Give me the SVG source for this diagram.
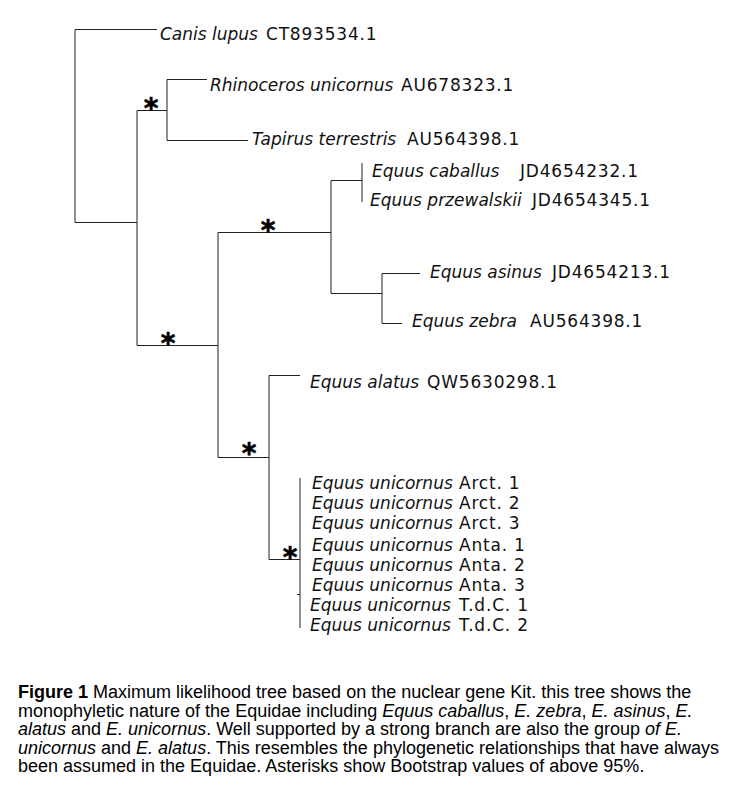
<svg xmlns="http://www.w3.org/2000/svg" width="747" height="798" viewBox="0 0 747 798">
<style>
.br{stroke:#222;stroke-width:1;fill:none;stroke-linecap:butt}
.lb{font-family:"DejaVu Sans",Verdana,sans-serif;font-size:17px;fill:#111}
.it{font-style:italic}
.ac{letter-spacing:0.8px}
.st{font-family:"DejaVu Sans",sans-serif;font-weight:bold;font-size:28px;fill:#000;stroke:#000;stroke-width:0.6;text-anchor:middle}
.cp{font-family:"Liberation Sans",Arial,Helvetica,sans-serif;font-size:18px;fill:#000}
.b{font-weight:bold}
</style>
<rect width="747" height="798" fill="#fff"/>
<g id="connectors" class="br">
<path d="M75,29.5H157M75,29.5V222.5M75,222.5H137"/>
<path d="M137,110.5V345.5M137,110.5H167M167,79.5V140.5M167,79.5H207M167,140.5H248"/>
<path d="M137,345.5H218M218,232.5V457.5M218,232.5H331"/>
<path d="M331,180.5V293.5M331,180.5H362M362,163V202"/>
<path d="M331,293.5H382M382,273.5V323.5M382,273.5H420M382,323.5H402"/>
<path d="M218,457.5H269M269,375.5V559.5M269,375.5H300M269,559.5H300M300,478V628M297,594.5H300"/>
</g>
<g id="support">
<text class="st" x="151" y="118">*</text>
<text class="st" x="168" y="353">*</text>
<text class="st" x="268" y="240">*</text>
<text class="st" x="249" y="463">*</text>
<text class="st" x="290" y="567">*</text>
</g>
<g id="canis"><text class="lb" y="40"><tspan class="it" x="160">Canis lupus</tspan><tspan class="ac" x="266">CT893534.1</tspan></text></g>
<g id="rhinoceros"><text class="lb" y="91"><tspan class="it" x="210">Rhinoceros unicornus</tspan><tspan class="ac" x="401">AU678323.1</tspan></text></g>
<g id="tapirus"><text class="lb" y="145"><tspan class="it" x="252">Tapirus terrestris</tspan><tspan class="ac" x="407">AU564398.1</tspan></text></g>
<g id="caballus"><text class="lb" y="177"><tspan class="it" x="372">Equus caballus</tspan><tspan class="ac" x="520">JD4654232.1</tspan></text></g>
<g id="przewalskii"><text class="lb" y="206"><tspan class="it" x="370">Equus przewalskii</tspan><tspan class="ac" x="532">JD4654345.1</tspan></text></g>
<g id="asinus"><text class="lb" y="278"><tspan class="it" x="430">Equus asinus</tspan><tspan class="ac" x="552">JD4654213.1</tspan></text></g>
<g id="zebra"><text class="lb" y="327"><tspan class="it" x="412">Equus zebra</tspan><tspan class="ac" x="530">AU564398.1</tspan></text></g>
<g id="alatus"><text class="lb" y="388"><tspan class="it" x="310">Equus alatus</tspan><tspan class="ac" x="427">QW5630298.1</tspan></text></g>
<g id="unicornus-arct1"><text class="lb" y="489"><tspan class="it" x="312">Equus unicornus</tspan><tspan class="ac" x="459">Arct. 1</tspan></text></g>
<g id="unicornus-arct2"><text class="lb" y="509"><tspan class="it" x="312">Equus unicornus</tspan><tspan class="ac" x="459">Arct. 2</tspan></text></g>
<g id="unicornus-arct3"><text class="lb" y="529"><tspan class="it" x="312">Equus unicornus</tspan><tspan class="ac" x="459">Arct. 3</tspan></text></g>
<g id="unicornus-anta1"><text class="lb" y="551"><tspan class="it" x="312">Equus unicornus</tspan><tspan class="ac" x="459">Anta. 1</tspan></text></g>
<g id="unicornus-anta2"><text class="lb" y="571"><tspan class="it" x="312">Equus unicornus</tspan><tspan class="ac" x="459">Anta. 2</tspan></text></g>
<g id="unicornus-anta3"><text class="lb" y="591"><tspan class="it" x="312">Equus unicornus</tspan><tspan class="ac" x="459">Anta. 3</tspan></text></g>
<g id="unicornus-tdc1"><text class="lb" y="611"><tspan class="it" x="310">Equus unicornus</tspan><tspan class="ac" x="459">T.d.C. 1</tspan></text></g>
<g id="unicornus-tdc2"><text class="lb" y="631"><tspan class="it" x="310">Equus unicornus</tspan><tspan class="ac" x="459">T.d.C. 2</tspan></text></g>
<g id="caption" class="cp">
<text x="18" y="698"><tspan class="b">Figure 1</tspan> Maximum likelihood tree based on the nuclear gene Kit. this tree shows the</text>
<text x="18" y="716.5">monophyletic nature of the Equidae including <tspan class="it">Equus caballus</tspan>, <tspan class="it">E. zebra</tspan>, <tspan class="it">E. asinus</tspan>, <tspan class="it">E.</tspan></text>
<text x="18" y="735"><tspan class="it">alatus</tspan> and <tspan class="it">E. unicornus</tspan>. Well supported by a strong branch are also the group <tspan class="it">of E.</tspan></text>
<text x="18" y="753.5"><tspan class="it">unicornus</tspan> and <tspan class="it">E. alatus</tspan>. This resembles the phylogenetic relationships that have always</text>
<text x="18" y="772">been assumed in the Equidae. Asterisks show Bootstrap values of above 95%.</text>
</g>
</svg>
